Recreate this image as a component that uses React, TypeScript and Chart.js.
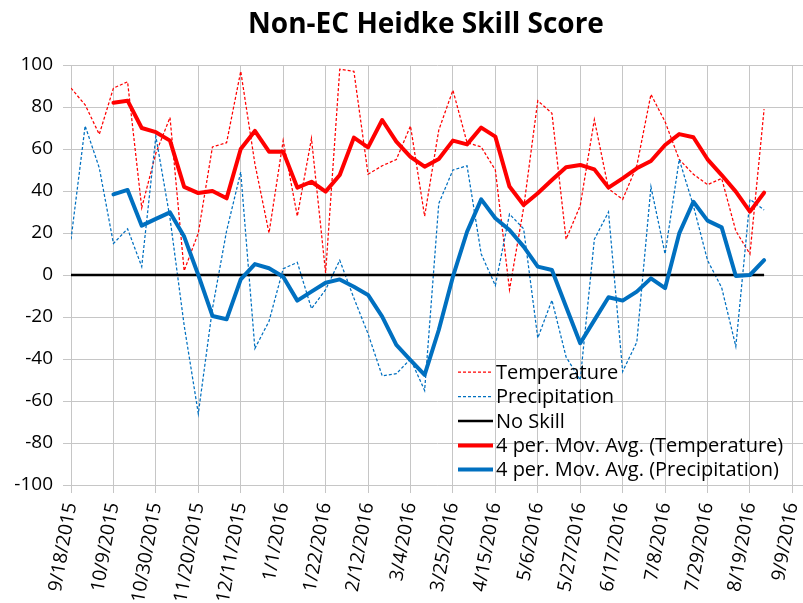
import React, { useEffect, useRef } from "react";
import { Chart, registerables } from "chart.js";

Chart.register(...registerables);

// Week starting dates (x categories), incl. the two empty weeks at the axis end
const categories = [
  "9/18/2015", "9/25/2015", "10/2/2015", "10/9/2015", "10/16/2015", "10/23/2015",
  "10/30/2015", "11/6/2015", "11/13/2015", "11/20/2015", "11/27/2015", "12/4/2015",
  "12/11/2015", "12/18/2015", "12/25/2015", "1/1/2016", "1/8/2016", "1/15/2016",
  "1/22/2016", "1/29/2016", "2/5/2016", "2/12/2016", "2/19/2016", "2/26/2016",
  "3/4/2016", "3/11/2016", "3/18/2016", "3/25/2016", "4/1/2016", "4/8/2016",
  "4/15/2016", "4/22/2016", "4/29/2016", "5/6/2016", "5/13/2016", "5/20/2016",
  "5/27/2016", "6/3/2016", "6/10/2016", "6/17/2016", "6/24/2016", "7/1/2016",
  "7/8/2016", "7/15/2016", "7/22/2016", "7/29/2016", "8/5/2016", "8/12/2016",
  "8/19/2016", "8/26/2016", "9/2/2016", "9/9/2016",
];

const temperature = [
  89, 81, 67, 89, 92, 32, 58, 75, 2, 20, 61, 63,
  97, 53, 20, 64, 28, 65, 1, 98, 97, 48, 52, 55,
  71, 28, 69, 88, 63, 61, 50, -7, 32, 83, 77, 17,
  33, 74, 41, 36, 52, 86, 73, 55, 48, 43, 46, 21,
  10, 79,
];

const precipitation = [
  17, 71, 51, 15, 22, 4, 66, 27, -24, -66, -16, 21,
  49, -35, -22, 3, 6, -16, -7, 7, -11, -28, -48, -47,
  -40, -55, 34, 50, 52, 10, -5, 29, 22, -30, -12, -39,
  -50, 17, 30, -46, -32, 42, 10, 55, 33, 7, -6, -34,
  36, 31,
];

const noSkill = [
  0, 0, 0, 0, 0, 0, 0, 0, 0, 0, 0, 0,
  0, 0, 0, 0, 0, 0, 0, 0, 0, 0, 0, 0,
  0, 0, 0, 0, 0, 0, 0, 0, 0, 0, 0, 0,
  0, 0, 0, 0, 0, 0, 0, 0, 0, 0, 0, 0,
  0, 0,
];

const temperatureMovAvg = [
  null, null, null, 82, 83, 70, 68, 64, 42, 39, 40, 36.5,
  60, 68.6, 58.7, 58.7, 41.6, 44.4, 39.7, 47.6, 65.4, 60.8, 73.8, 63.5,
  56.3, 51.6, 55.2, 64, 62.2, 70.2, 65.9, 42.1, 33.3, 38.9, 45.2, 51.3,
  52.4, 50.3, 41.6, 46, 50.8, 54.3, 61.9, 67.1, 65.6, 55.1, 47.6, 39.7,
  30.2, 39.2,
];

const precipitationMovAvg = [
  null, null, null, 38.4, 40.5, 23.5, 26.7, 29.8, 18.3, 0, -19.5, -21.1,
  -2.1, 5.2, 3.2, -0.8, -12.2, -7.9, -3.7, -2.1, -5.6, -9.5, -19.8, -33.3,
  -40.5, -47.6, -26.2, -0.8, 20.6, 36, 27, 21.4, 13.5, 4, 2.4, -15.1,
  -32.5, -21.5, -10.6, -12.2, -7.9, -1.6, -6.3, 19.8, 34.9, 25.9, 22.7, -0.5,
  0, 7.1,
];

const yTicks = { min: -100, max: 100, step: 20 };
const xTickEvery = 3; // a date label every 3 weeks
const xAxisMax = 51.75; // plot area runs a little past 9/9/2016
const TITLE = "Non-EC Heidke Skill Score";
const FONT = '"Open Sans", "Liberation Sans", sans-serif';
const GRID = "#c6c6c6";

const toPoints = (arr: (number | null)[]) => arr.map((v, i) => ({ x: i, y: v }));

const titlePlugin = {
  id: "customTitle",
  afterDraw(chart: any) {
    const ctx = chart.ctx;
    ctx.save();
    ctx.font = `bold 28px ${FONT}`;
    ctx.fillStyle = "#000";
    ctx.textAlign = "center";
    ctx.textBaseline = "alphabetic";
    ctx.fillText(TITLE, 426, 33);
    ctx.restore();
  },
};

const legendPlugin = {
  id: "customLegend",
  afterDraw(chart: any) {
    const ctx = chart.ctx;
    ctx.save();
    ctx.font = `20px ${FONT}`;
    ctx.fillStyle = "#000";
    ctx.textAlign = "left";
    ctx.textBaseline = "alphabetic";
    const baselines = [378.5, 403, 427.5, 452, 476];
    chart.data.datasets.forEach((ds: any, i: number) => {
      const b = baselines[i];
      const ly = b - 6.5;
      ctx.beginPath();
      ctx.strokeStyle = ds.borderColor;
      ctx.lineWidth = ds.borderWidth;
      ctx.setLineDash(ds.borderDash || []);
      ctx.lineCap = "butt";
      ctx.moveTo(458, ly);
      ctx.lineTo(493, ly);
      ctx.stroke();
      ctx.setLineDash([]);
      ctx.fillText(ds.label, 496, b);
    });
    ctx.restore();
  },
};

export default function App() {
  const canvasRef = useRef<HTMLCanvasElement | null>(null);

  useEffect(() => {
    document.body.style.margin = "0";
    const canvas = canvasRef.current;
    if (!canvas) return;
    const chart = new Chart(canvas, {
      type: "line",
      data: {
        datasets: [
          {
            label: "Temperature",
            data: toPoints(temperature),
            borderColor: "#ff0000",
            borderWidth: 1.25,
            borderDash: [3, 2],
            pointRadius: 0,
            tension: 0,
            order: 5,
          },
          {
            label: "Precipitation",
            data: toPoints(precipitation),
            borderColor: "#0070c0",
            borderWidth: 1.25,
            borderDash: [3, 2],
            pointRadius: 0,
            tension: 0,
            order: 4,
          },
          {
            label: "No Skill",
            data: toPoints(noSkill),
            borderColor: "#000000",
            borderWidth: 2.5,
            pointRadius: 0,
            order: 3,
          },
          {
            label: "4 per. Mov. Avg. (Temperature)",
            data: toPoints(temperatureMovAvg),
            borderColor: "#ff0000",
            borderWidth: 4,
            pointRadius: 0,
            borderJoinStyle: "round",
            borderCapStyle: "round",
            order: 2,
          },
          {
            label: "4 per. Mov. Avg. (Precipitation)",
            data: toPoints(precipitationMovAvg),
            borderColor: "#0070c0",
            borderWidth: 4,
            pointRadius: 0,
            borderJoinStyle: "round",
            borderCapStyle: "round",
            order: 1,
          },
        ],
      },
      options: {
        responsive: false,
        animation: false,
        events: [],
        layout: { padding: { top: 65, right: 0, left: 0, bottom: 0 } },
        plugins: {
          legend: { display: false },
          title: { display: false },
          tooltip: { enabled: false },
        },
        scales: {
          x: {
            type: "linear",
            min: 0,
            max: xAxisMax,
            grid: {
              color: GRID,
              lineWidth: 1,
              drawTicks: true,
              tickLength: 8,
              tickColor: GRID,
            },
            border: { color: GRID, width: 1 },
            ticks: {
              stepSize: xTickEvery,
              includeBounds: false,
              autoSkip: false,
              minRotation: 80,
              maxRotation: 80,
              padding: 8,
              color: "#000",
              font: { family: FONT, size: 19 },
              callback: (v: any) => (Number.isInteger(v) && categories[v] ? categories[v] : ""),
            },
            afterFit: (scale: any) => {
              scale.height = 118;
              scale.paddingLeft = 0;
              scale.paddingRight = 0;
            },
          },
          y: {
            min: yTicks.min,
            max: yTicks.max,
            grid: { color: GRID, lineWidth: 1, drawTicks: true, tickLength: 8, tickColor: GRID },
            border: { color: GRID, width: 1 },
            ticks: {
              stepSize: yTicks.step,
              padding: 10,
              color: "#000",
              font: { family: FONT, size: 19 },
            },
            afterFit: (scale: any) => {
              scale.width = 71;
              scale.paddingTop = 0;
              scale.paddingBottom = 0;
            },
          },
        },
      },
      plugins: [titlePlugin, legendPlugin],
    });
    return () => chart.destroy();
  }, []);

  return (
    <div style={{ width: 803, height: 603, background: "#fff" }}>
      <canvas ref={canvasRef} width={803} height={603} style={{ display: "block" }} />
    </div>
  );
}
